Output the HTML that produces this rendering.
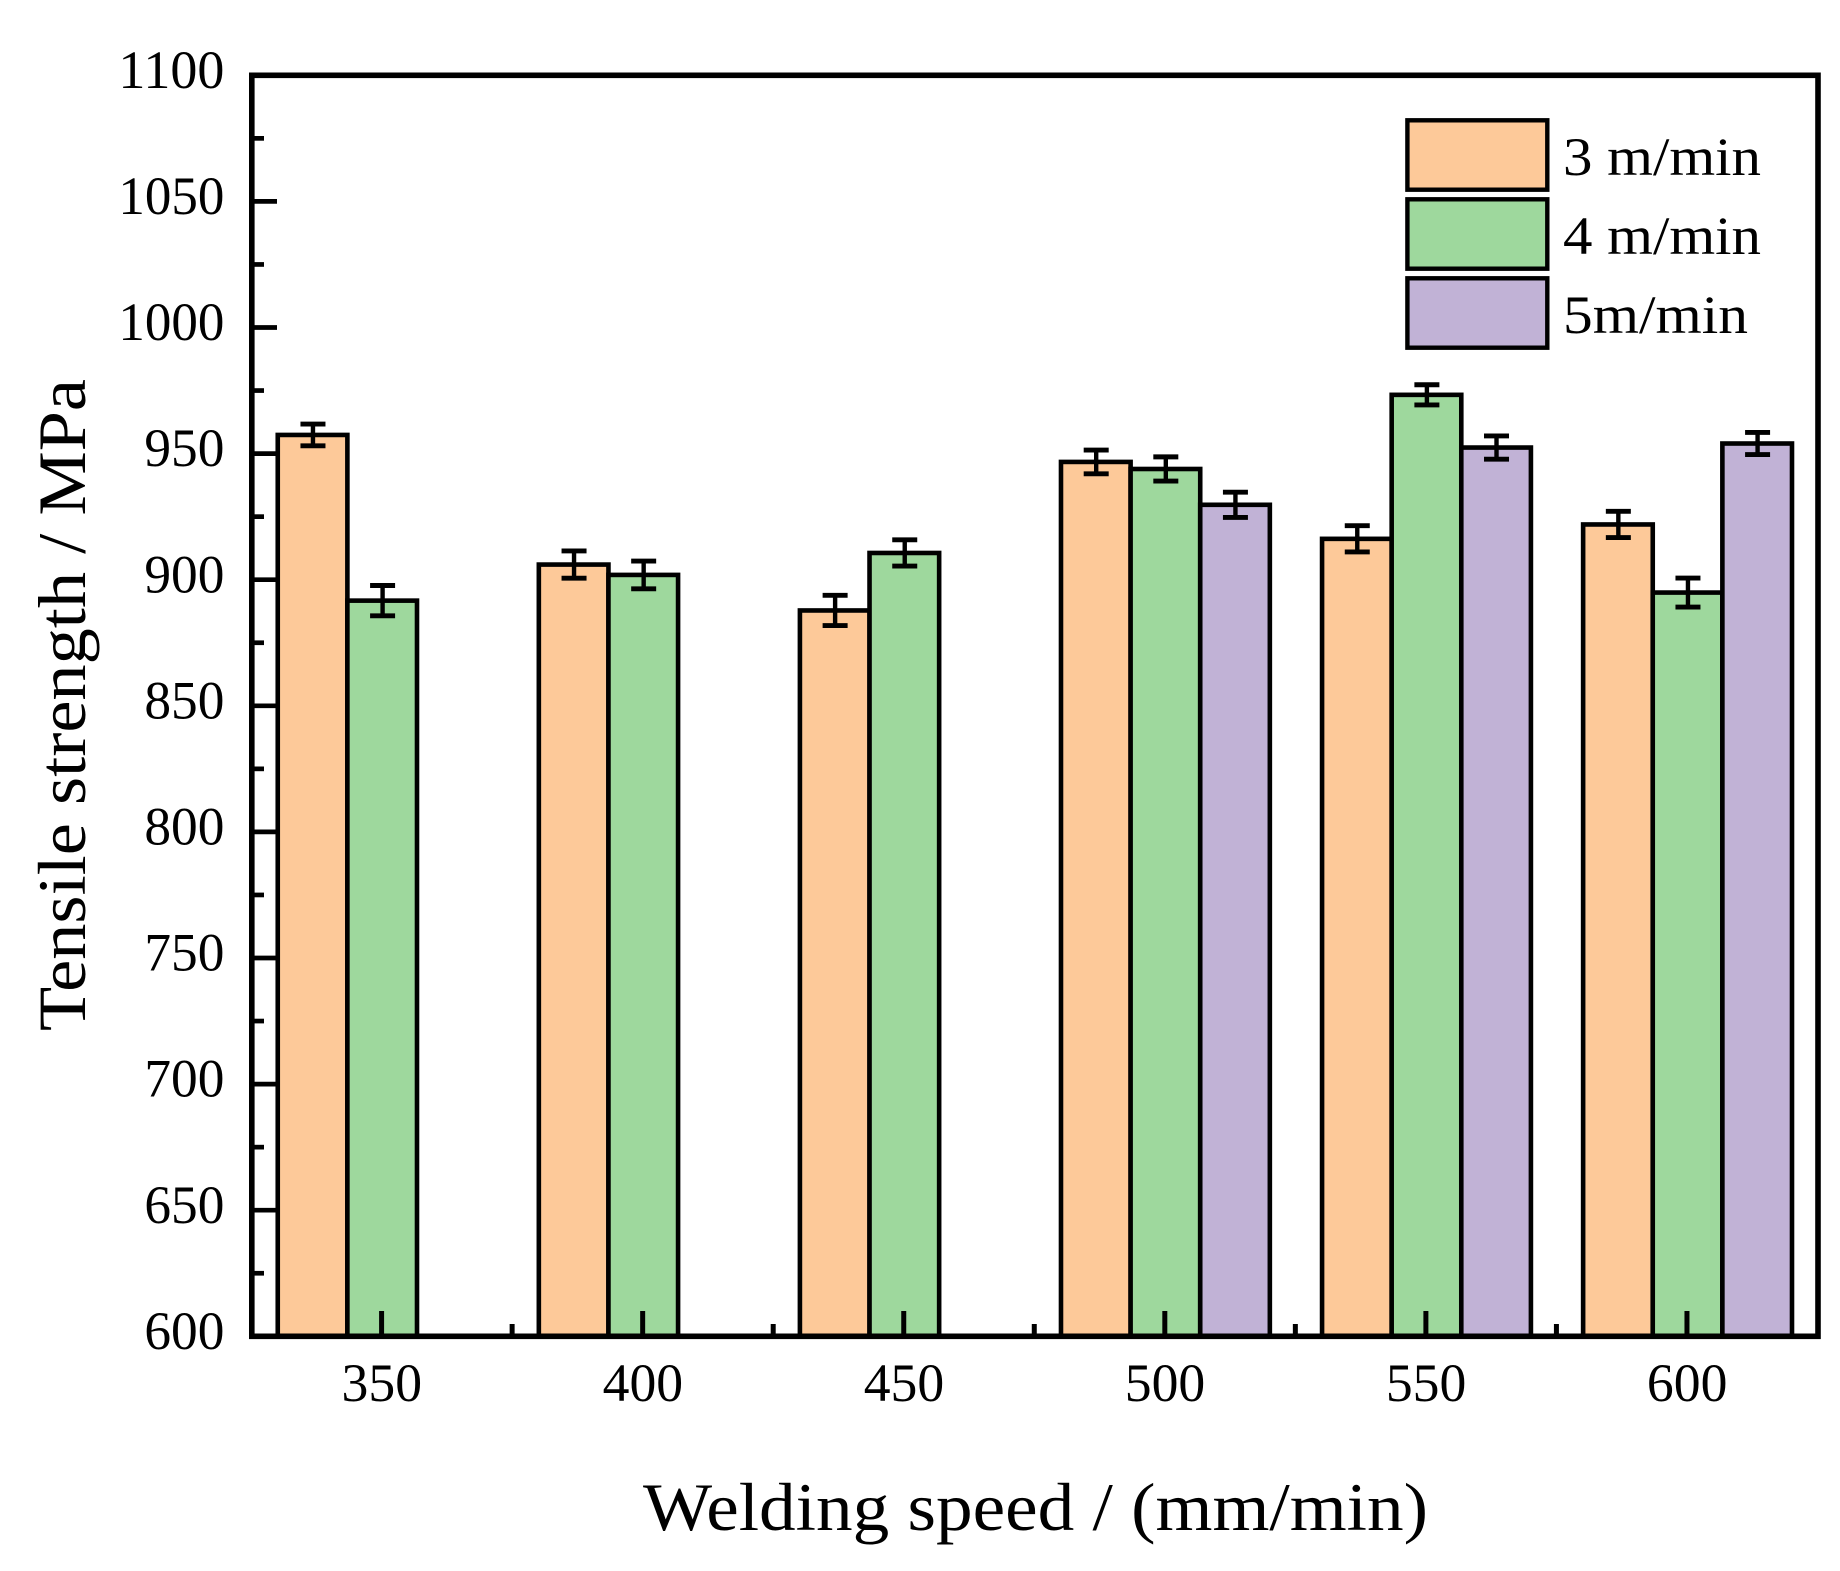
<!DOCTYPE html>
<html lang="en">
<head>
<meta charset="utf-8">
<title>Tensile strength vs welding speed</title>
<style>
html,body{margin:0;padding:0;background:#fff;}
svg{display:block;}
text{font-family:"Liberation Serif",serif;fill:#000;}
</style>
</head>
<body>
<svg id="chart" xmlns="http://www.w3.org/2000/svg" width="1840" height="1571" viewBox="0 0 1840 1571">
  <rect x="0" y="0" width="1840" height="1571" fill="#ffffff"/>
  <g id="bars"></g>
  <g id="errors"></g>
  <g id="ticks"></g>
  <rect x="251.8" y="75.3" width="1566.2" height="1261" fill="none" stroke="#000" stroke-width="5.6"/>
  <g id="labels"></g>
  <text transform="translate(85,1031) rotate(-90)" font-size="68" textLength="652" lengthAdjust="spacingAndGlyphs">Tensile strength / MPa</text>
  <text x="643" y="1530" font-size="68" textLength="785" lengthAdjust="spacingAndGlyphs">Welding speed / (mm/min)</text>
  <g id="legend"></g>
</svg>
<script>
const categories = [350, 400, 450, 500, 550, 600];
const seriesNames = ['3 m/min', '4 m/min', '5m/min'];
const values3 = [957.4, 906.0, 887.8, 946.7, 916.2, 921.9];
const values4 = [891.7, 901.9, 910.6, 943.9, 973.3, 894.9];
const values5 = [null, null, null, 929.7, 952.4, 954.0];
const errors3 = [4.3, 5.4, 6.0, 4.7, 5.2, 5.2];
const errors4 = [6.0, 5.5, 5.2, 4.8, 4.0, 5.75];
const errors5 = [null, null, null, 5.0, 4.6, 4.4];
const yMajorTicks = [600, 650, 700, 750, 800, 850, 900, 950, 1000, 1050, 1100];
const yMinorTicks = [625, 675, 725, 775, 825, 875, 925, 975, 1025, 1075];
const xMinorTicks = [375, 425, 475, 525, 575];

const NS = 'http://www.w3.org/2000/svg';
const xDomain = [325, 625], xRange = [251.05, 1817.5];
const yDomain = [600, 1100], yRange = [1336.3, 75.3];
const barUnits = 40 / 3;
const barShift = 0.6;
const colors = ['#FDC999', '#9ED89D', '#C1B2D6'];
const allValues = [values3, values4, values5];
const allErrors = [errors3, errors4, errors5];

function xScale(v) {
  return xRange[0] + (v - xDomain[0]) / (xDomain[1] - xDomain[0]) * (xRange[1] - xRange[0]);
}
function yScale(v) {
  return yRange[0] + (v - yDomain[0]) / (yDomain[1] - yDomain[0]) * (yRange[1] - yRange[0]);
}
function make(tag, parent, attrs) {
  const el = document.createElementNS(NS, tag);
  for (const k in attrs) el.setAttribute(k, attrs[k]);
  parent.appendChild(el);
  return el;
}

const barsLayer = document.getElementById('bars');
const errorsLayer = document.getElementById('errors');
const ticksLayer = document.getElementById('ticks');
const labelsLayer = document.getElementById('labels');
const legendLayer = document.getElementById('legend');

allValues.forEach(function (vals, s) {
  vals.forEach(function (v, i) {
    if (v === null) return;
    const left = xScale(categories[i] + (s - 1.5) * barUnits) + barShift;
    const right = xScale(categories[i] + (s - 0.5) * barUnits) + barShift;
    const top = yScale(v);
    const rect = make('rect', barsLayer, {
      x: left, y: top, width: right - left, height: yScale(600) - top,
      fill: colors[s], stroke: '#000', 'stroke-width': 4.6
    });
    
    

    const cx = (left + right) / 2 + 0.4;
    const err = allErrors[s][i];
    const hi = yScale(v + err), lo = yScale(v - err);
    const eg = make('g', errorsLayer, {stroke: '#000', fill: 'none'});
    
    
    make('line', eg, {x1: cx, x2: cx, y1: hi, y2: lo, 'stroke-width': 4.4});
    make('line', eg, {x1: cx - 12.5, x2: cx + 12.5, y1: hi, y2: hi, 'stroke-width': 4.9});
    make('line', eg, {x1: cx - 12.5, x2: cx + 12.5, y1: lo, y2: lo, 'stroke-width': 4.9});
  });
});

yMajorTicks.forEach(function (t) {
  const y = yScale(t);
  if (t !== 600 && t !== 1100) {
    const tick = make('line', ticksLayer, {x1: 252, x2: 277, y1: y, y2: y, stroke: '#000', 'stroke-width': 4.7});
    
    
  }
  const label = make('text', labelsLayer, {
    x: 224.4, y: y + 12.6, 'font-size': 54, 'text-anchor': 'end',
    textLength: t >= 1000 ? 106 : 80, lengthAdjust: 'spacingAndGlyphs'
  });
  label.textContent = String(t);
  
  
});

yMinorTicks.forEach(function (t) {
  const y = yScale(t);
  const tick = make('line', ticksLayer, {x1: 252, x2: 264, y1: y, y2: y, stroke: '#000', 'stroke-width': 4.7});
  
  
});

categories.forEach(function (c) {
  const x = xScale(c);
  const tick = make('line', ticksLayer, {x1: x, x2: x, y1: 1336, y2: 1311, stroke: '#000', 'stroke-width': 5});
  
  
  const label = make('text', labelsLayer, {
    x: x + 0.2, y: 1401, 'font-size': 54, 'text-anchor': 'middle',
    textLength: 80.5, lengthAdjust: 'spacingAndGlyphs'
  });
  label.textContent = String(c);
  
  
});

xMinorTicks.forEach(function (t) {
  const x = xScale(t);
  const tick = make('line', ticksLayer, {x1: x, x2: x, y1: 1336, y2: 1324, stroke: '#000', 'stroke-width': 5});
  
  
});

seriesNames.forEach(function (name, s) {
  const swatch = make('rect', legendLayer, {
    x: 1407.4, y: 120.3 + s * 79, width: 139.9, height: 69.4,
    fill: colors[s], stroke: '#000', 'stroke-width': 4.4
  });
  
  
  const label = make('text', legendLayer, {
    x: 1563, y: 175 + s * 79, 'font-size': 54,
    textLength: s === 2 ? 185 : 198, lengthAdjust: 'spacingAndGlyphs'
  });
  label.textContent = name;
  
  
});
</script>
</body>
</html>
